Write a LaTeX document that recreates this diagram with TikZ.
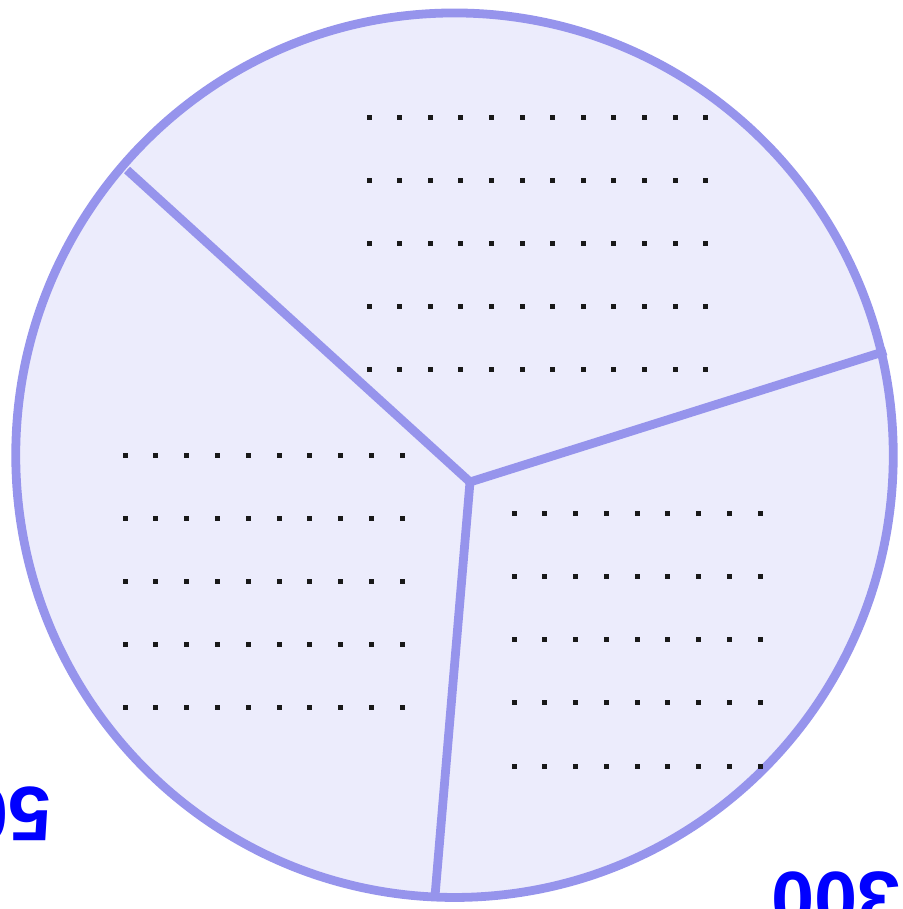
\documentclass[tikz,border=0pt]{standalone}
\usepackage{fontspec}
\setmainfont{Liberation Sans}
\definecolor{rim}{RGB}{150,148,236}
\definecolor{pie}{RGB}{236,236,252}
\definecolor{lbl}{RGB}{0,0,255}

\begin{document}
\begin{tikzpicture}[x=0.01cm,y=-0.01cm,
  rimline/.style={draw=rim,line width=2.5pt,line cap=butt,line join=round},
  dot/.style={fill=black!90},
  lbltext/.style={text=lbl,font=\fontsize{22}{26}\selectfont\bfseries,rotate=180,anchor=base,inner sep=0pt}]
\useasboundingbox (0,0) rectangle (902,909);
\clip (0,0) rectangle (902,909);
\fill[pie] (454.5,455.2) ellipse [x radius=4.385cm, y radius=4.42cm];
% slice borders
\coordinate (hub) at (470,482);
\coordinate (rimUL) at (127,170);
\coordinate (rimR) at (886,351);
\coordinate (rimB) at (435,896);
\draw[rimline] (rimUL) -- (hub) -- (rimR);
\draw[rimline] (hub) -- (rimB);
\draw[rimline] (454.5,455.2) ellipse [x radius=4.385cm, y radius=4.42cm];
% dots, top slice
\foreach \r in {0,...,4}
  \foreach \c in {0,...,11}
    \fill[dot] (369+30.6*\c-2.5,117+63*\r-2.5) rectangle ++(5,5);
% dots, left slice
\foreach \r in {0,...,4}
  \foreach \c in {0,...,9}
    \fill[dot] (125+30.8*\c-2.5,455+63*\r-2.5) rectangle ++(5,5);
% dots, right slice
\foreach \r in {0,...,4}
  \foreach \c in {0,...,8}
    \fill[dot] (514+30.75*\c-2.5,513+63.25*\r-2.5) rectangle ++(5,5);
% labels
\node[lbltext] (lblR) at (836,872) {300};
\node[lbltext] (lblL) at (-13,787) {500};
\end{tikzpicture}
\end{document}
